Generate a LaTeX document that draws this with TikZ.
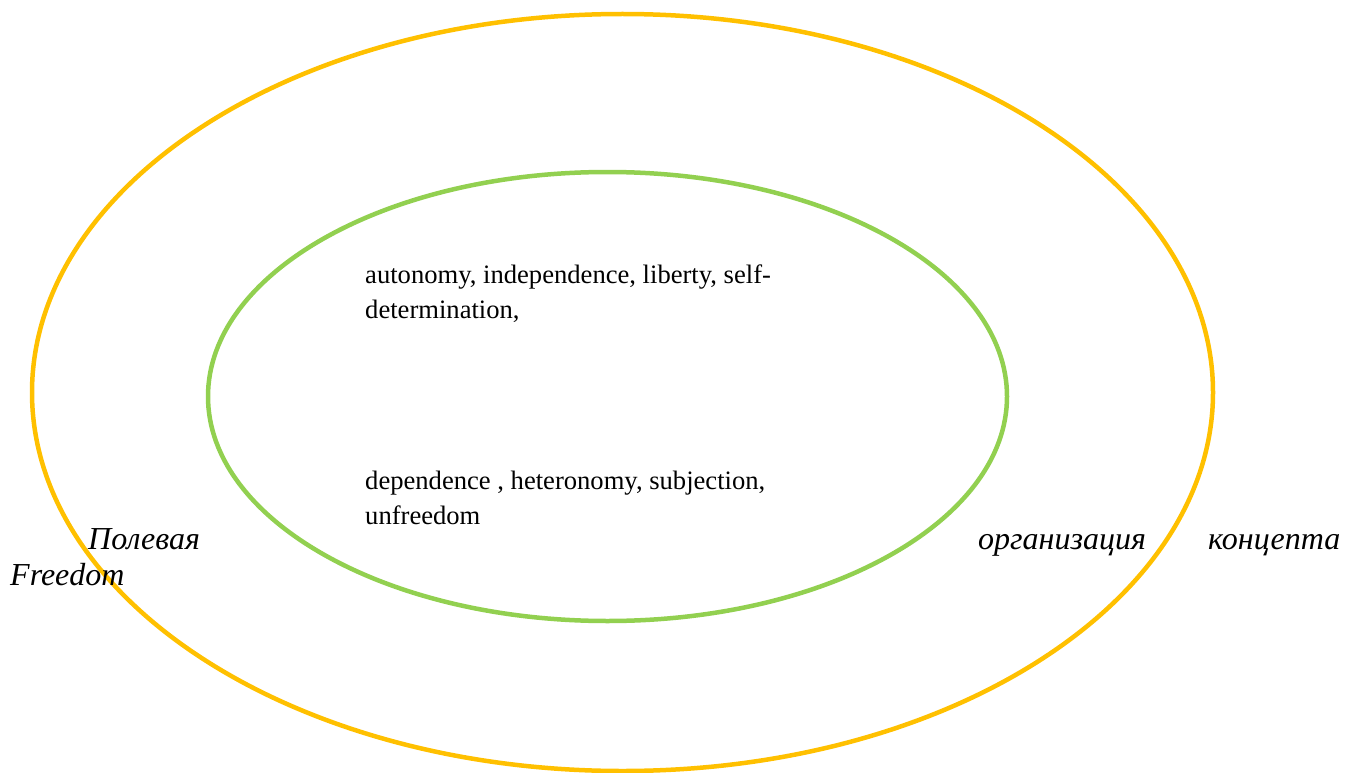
\documentclass[tikz,border=0pt]{standalone}
\usepackage{fontspec}
\setmainfont{Liberation Serif}
\usetikzlibrary{shapes.geometric}
\definecolor{ringyellow}{HTML}{FFC000}
\definecolor{ringgreen}{HTML}{92D050}
\begin{document}
\begin{tikzpicture}[
    x=1pt, y=-1pt,
    ring/.style={ellipse, draw, line width=4.5pt, inner sep=0pt},
    term/.style={anchor=base west, inner sep=0pt, align=left, font=\fontsize{26.6}{34.5}\selectfont},
    label/.style={anchor=base west, inner sep=0pt, font=\fontsize{32}{36}\selectfont\itshape}
]
\useasboundingbox (0,0) rectangle (1354,773);

% Rings
\node[ring, ringyellow, minimum width=1181pt, minimum height=757pt] (outer) at (622.5,392.5) {};
\node[ring, ringgreen, minimum width=799pt, minimum height=449pt] (inner) at (607.5,396.5) {};

% Core terms (base = last line)
\node[term] (core) at (365,318) {autonomy, independence, liberty, self-\\determination,};
\node[term] (opp) at (365,524) {dependence , heteronomy, subjection,\\unfreedom};

% Caption words
\node[label] (w1) at (88,549) {Полевая};
\node[label] (w2) at (978,549) {организация};
\node[label] (w3) at (1208,549) {концепта};
\node[label] (w4) at (10,585) {Freedom};

\end{tikzpicture}
\end{document}
